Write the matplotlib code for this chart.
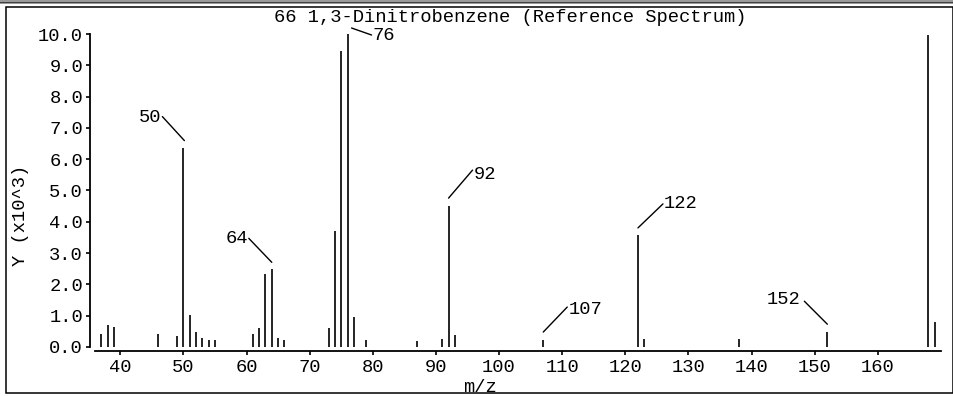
import matplotlib
matplotlib.use("Agg")
import matplotlib.pyplot as plt
from matplotlib.transforms import offset_copy
from matplotlib.patches import Rectangle

# ---- data (intensity in units of 10^3) ----
mz = [37, 38, 39, 46, 49, 50, 51, 52, 53, 54, 55, 61, 62, 63, 64, 65, 66,
      73, 74, 75, 76, 77, 79, 87, 91, 92, 93, 107, 122, 123, 138, 152, 168, 169]
intensity = [0.41, 0.71, 0.65, 0.41, 0.34, 6.37, 1.02, 0.47, 0.29, 0.23, 0.23,
             0.41, 0.60, 2.32, 2.48, 0.29, 0.23,
             0.62, 3.69, 9.45, 10.0, 0.95, 0.23, 0.20, 0.25, 4.50, 0.38,
             0.22, 3.58, 0.25, 0.25, 0.47, 9.97, 0.80]
labeled_peaks = [50, 64, 76, 92, 107, 122, 152]
x_ticks = [40, 50, 60, 70, 80, 90, 100, 110, 120, 130, 140, 150, 160]
y_ticks = [0, 1, 2, 3, 4, 5, 6, 7, 8, 9, 10]
y_tick_labels = ["0.0", "1.0", "2.0", "3.0", "4.0", "5.0", "6.0", "7.0",
                 "8.0", "9.0", "10.0"]
title = "66 1,3-Dinitrobenzene (Reference Spectrum)"
xlabel = "m/z"
ylabel = "Y (x10^3)"

FONT = ["Liberation Mono", "DejaVu Sans Mono"]
FS = 13.5

W, H = 954, 396
fig = plt.figure(figsize=(W / 100, H / 100), dpi=100)
fig.patch.set_facecolor("white")

# axes in pixel layout
ax_l, ax_r, ax_top, ax_bot = 95, 941, 34, 351
ax = fig.add_axes([ax_l / W, (H - ax_bot) / H, (ax_r - ax_l) / W, (ax_bot - ax_top) / H])
ax.set_xlim(36, 170)
ax.set_ylim(-0.13, 10)

ax.vlines(mz, 0, intensity, colors="black", linewidth=1.2)

for s in ["top", "right"]:
    ax.spines[s].set_visible(False)
ax.spines["left"].set_bounds(0, 10)
ax.spines["left"].set_position(("data", 35.2))
ax.spines["left"].set_linewidth(1.3)
ax.spines["bottom"].set_linewidth(1.3)

ax.set_xticks(x_ticks)
ax.set_xticklabels([str(t) for t in x_ticks], fontfamily=FONT, fontsize=FS)
ax.set_yticks(y_ticks)
ax.set_yticklabels(y_tick_labels, fontfamily=FONT, fontsize=FS)
ax.tick_params(axis="both", direction="out", length=3, width=1.2, pad=2, colors="black")
ax.tick_params(axis="x", pad=3)

ax.set_xlabel(xlabel, fontfamily=FONT, fontsize=FS, labelpad=0)
ax.xaxis.set_label_coords((480 - ax_l) / (ax_r - ax_l), -(379 - ax_bot) / (ax_bot - ax_top))
ax.set_ylabel(ylabel, fontfamily=FONT, fontsize=FS)
ax.yaxis.set_label_coords(-(ax_l - 29) / (ax_r - ax_l), (ax_bot - 215) / (ax_bot - ax_top))

fig.text(510 / W, 1 - 18 / H, title, fontfamily=FONT, fontsize=FS,
         ha="center", va="center")

# label geometry in pixels relative to peak top: line start, line end, text anchor, ha
label_geom = {
    50: ((1, 7), (-21, 31), (-22, 30), "right"),
    64: ((0, 7), (-23, 31), (-24, 31), "right"),
    76: ((4, 6), (24, -1), (25, -1), "left"),
    92: ((0, 8), (24, 36), (25, 32), "left"),
    107: ((0, 8), (24, 33), (25, 31), "left"),
    122: ((0, 7), (25, 31), (26, 31), "left"),
    152: ((0, 8), (-23, 31), (-27, 33), "right"),
}
height = dict(zip(mz, intensity))
for p in labeled_peaks:
    (sx, sy), (ex, ey), (tx, ty), ha = label_geom[p]
    tr = offset_copy(ax.transData, fig=fig, x=sx, y=sy, units="dots")
    ax.annotate("", xy=(p, height[p]), xycoords=tr,
                xytext=(ex - sx, ey - sy), textcoords="offset pixels",
                arrowprops=dict(arrowstyle="-", shrinkA=0, shrinkB=0,
                                lw=1.0, color="black"),
                annotation_clip=False)
    ax.annotate(str(p), xy=(p, height[p]), xytext=(tx, ty),
                textcoords="offset pixels", ha=ha, va="center",
                fontfamily=FONT, fontsize=FS, annotation_clip=False)

# outer frame
fig.patches.append(Rectangle((6 / W, 3 / H), (953 - 6) / W, (391 - 5) / H,
                             transform=fig.transFigure, fill=False,
                             edgecolor="black", linewidth=1.1))
fig.patches.append(Rectangle((0, 1 - 4 / H), 1, 4 / H, transform=fig.transFigure,
                             facecolor="#9a9a9a", edgecolor="none"))
fig.patches.append(Rectangle((0, 1 - 3 / H), 1, 1.5 / H, transform=fig.transFigure,
                             facecolor="#404040", edgecolor="none"))

fig.savefig("out.png", dpi=100, facecolor="white")
